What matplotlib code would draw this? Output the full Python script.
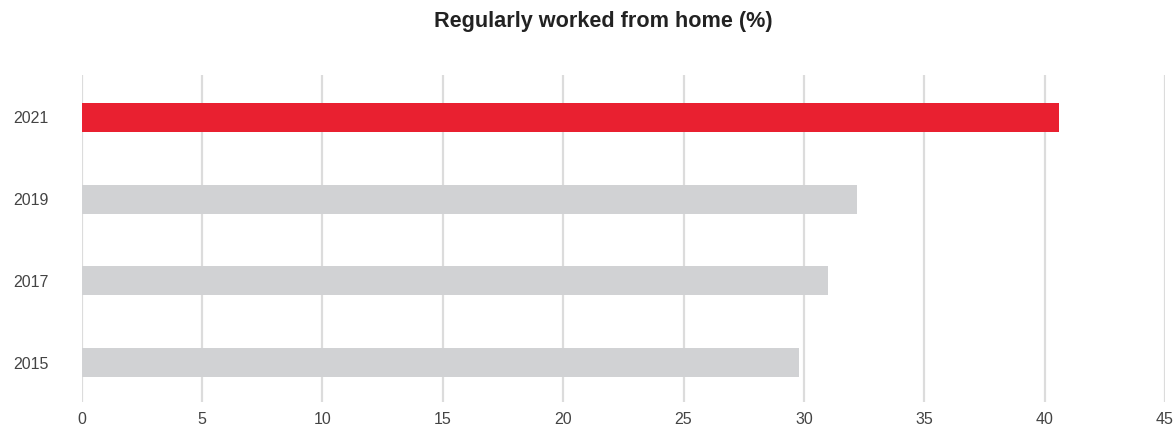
import matplotlib
matplotlib.use("Agg")
import matplotlib.pyplot as plt

plt.rcParams['font.family'] = ['Liberation Sans', 'DejaVu Sans']

years = ["2015", "2017", "2019", "2021"]
values = [29.8, 31.0, 32.2, 40.6]
colors = ["#D1D2D4", "#D1D2D4", "#D1D2D4", "#E92030"]
xticks = [0, 5, 10, 15, 20, 25, 30, 35, 40, 45]
title = "Regularly worked from home (%)"

W, H = 1174, 430
fig = plt.figure(figsize=(W / 100, H / 100), dpi=100)
left, right = 81.7 / W, 1165 / W
bottom, top = 1 - 402 / H, 1 - 75 / H
ax = fig.add_axes([left, bottom, right - left, top - bottom])

ax.barh(range(len(years)), values, height=0.355, color=colors, zorder=3)
ax.set_xlim(0, 45)
ax.set_ylim(-0.482, 3.518)
ax.set_yticks(range(len(years)))
ax.set_yticklabels(years)
ax.set_xticks(xticks)
ax.set_xticklabels([str(t) for t in xticks])
ax.grid(axis='x', color='#DCDCDC', linewidth=1.6, zorder=0)
ax.grid(axis='y', visible=False)
for s in ax.spines.values():
    s.set_visible(False)
ax.tick_params(axis='both', length=0, labelsize=11.5, labelcolor='#444444')
ax.tick_params(axis='y', pad=24)
ax.tick_params(axis='x', pad=7)
for lab in ax.get_yticklabels():
    lab.set_horizontalalignment('right')

fig.text(603 / W, 1 - 21 / H, title, ha='center', va='center',
         fontsize=15.6, fontweight='bold', color='#222222')

fig.savefig("out.png", dpi=100)
